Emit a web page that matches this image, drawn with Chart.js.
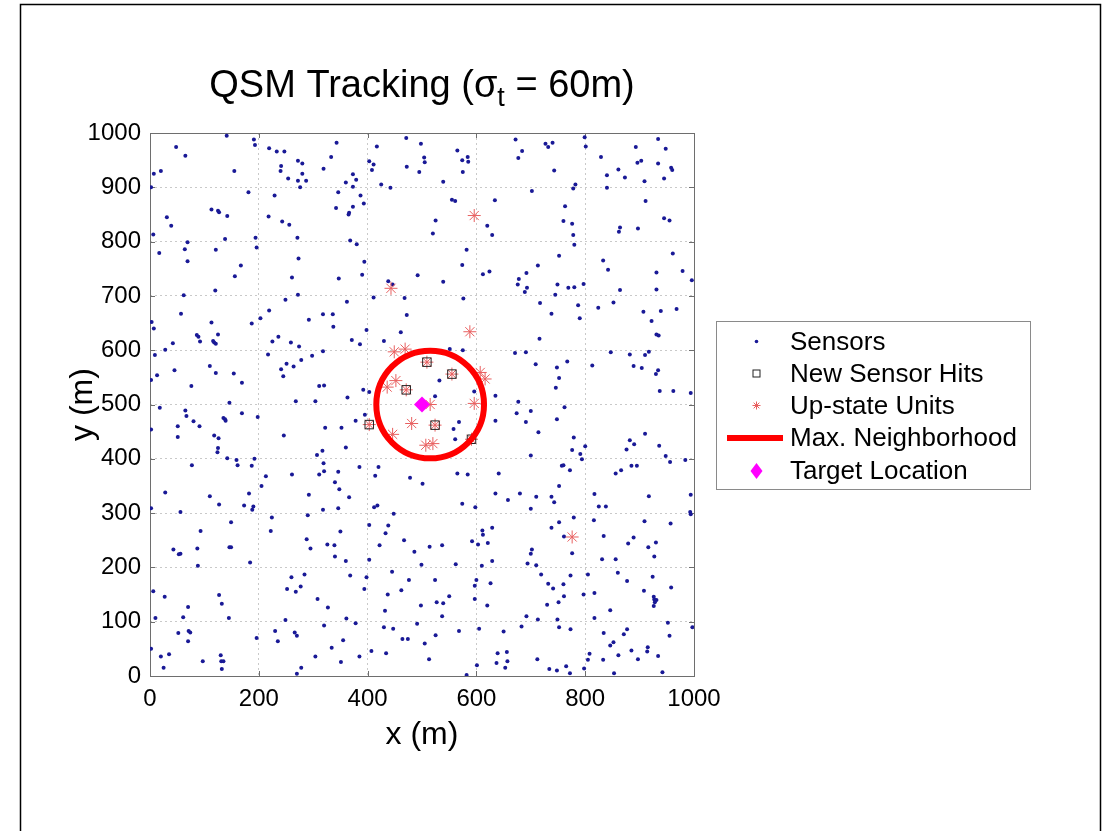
<!DOCTYPE html>
<html><head><meta charset="utf-8">
<script src="https://cdn.jsdelivr.net/npm/chart.js@4.4.1/dist/chart.umd.min.js"></script>
<style>html,body{margin:0;padding:0;background:#fff;}canvas{display:block;}</style>
</head><body>
<canvas id="c" width="1102" height="831"></canvas>
<script>
const FONT = "'Liberation Sans', Arial, Helvetica, sans-serif";

// ---- Data ----
const xTickValues = [0, 200, 400, 600, 800, 1000];
const xTickLabels = ['0', '200', '400', '600', '800', '1000'];
const yTickValues = [0, 100, 200, 300, 400, 500, 600, 700, 800, 900, 1000];
const yTickLabels = ['0', '100', '200', '300', '400', '500', '600', '700', '800', '900', '1000'];
const axisMin = 0, axisMax = 1000;
const titleMain = 'QSM Tracking (\u03C3';
const titleSub = 't';
const titleEnd = ' = 60m)';
const xLabel = 'x (m)';
const yLabel = 'y (m)';
const legendLabels = ['Sensors', 'New Sensor Hits', 'Up-state Units', 'Max. Neighborhood', 'Target Location'];

const sensors = [
[141,995],[191,988],[193,978],[48,974],[65,958],[219,972],[233,966],[247,966],[272,949],[280,944],[241,939],[240,930],[319,934],[333,956],[155,930],[7,925],[20,930],[254,916],[280,925],[272,912],[287,912],[276,900],[2,900],[181,891],[229,885],[113,859],[125,857],[127,854],[142,847],[31,845],[39,829],[218,846],[243,837],[256,831],[6,813],[138,805],[194,807],[271,807],[69,799],[64,786],[121,785],[196,789],[17,779],[69,764],[273,769],[167,756],[156,736],[261,734],[62,701],[120,710],[272,702],[249,693],
[343,982],[471,991],[498,980],[417,975],[403,948],[411,942],[408,932],[472,938],[504,955],[505,946],[495,928],[565,968],[574,950],[584,956],[585,947],[575,928],[373,924],[379,914],[360,909],[373,901],[425,905],[442,899],[539,910],[346,891],[387,885],[393,870],[373,864],[342,862],[366,853],[365,850],[555,877],[561,875],[634,876],[525,839],[520,815],[620,829],[629,812],[368,802],[380,795],[582,785],[394,763],[574,757],[612,740],[624,745],[390,739],[347,732],[492,738],[539,726],[438,727],[446,721],[411,697],[468,696],[576,695],[362,689],
[672,988],[677,954],[684,967],[727,980],[732,974],[740,982],[799,992],[801,975],[743,931],[829,956],[893,974],[934,989],[948,971],[896,945],[903,949],[934,944],[958,936],[960,932],[861,933],[840,922],[873,918],[909,911],[945,916],[782,905],[778,898],[840,899],[702,893],[911,875],[763,865],[760,838],[776,833],[945,843],[955,839],[864,826],[862,818],[897,824],[778,812],[780,794],[752,774],[713,756],[692,742],[678,731],[676,721],[693,715],[689,707],[749,721],[769,715],[780,716],[797,722],[745,702],[717,687],[787,683],[833,765],[842,748],[961,778],[931,743],[979,746],[996,729],[864,711],[931,712],[824,678],[852,688],[968,676],
[57,667],[3,652],[7,640],[113,651],[187,649],[203,659],[219,673],[292,656],[318,666],[336,666],[86,628],[89,625],[125,629],[92,616],[116,617],[118,614],[121,612],[42,613],[28,601],[9,591],[236,625],[225,616],[259,614],[274,607],[318,598],[298,590],[217,592],[278,582],[251,575],[264,570],[241,565],[245,552],[110,571],[121,558],[154,557],[45,563],[13,554],[2,545],[169,540],[76,534],[311,534],[320,535],[146,503],[268,506],[304,506],[18,494],[65,489],[67,479],[169,484],[198,477],[135,475],[138,473],[139,470],[80,469],[51,460],[91,460],[2,454],[322,457],[51,440],[118,443],[126,438],[246,443],[125,420],[124,412],[142,401],[159,398],[161,388],[192,400],[187,387],[77,388],[307,407],[317,415],[319,392],[320,377],[311,371],[261,371],[213,368],[205,350],
[472,665],[337,643],[398,637],[461,633],[371,619],[386,611],[430,617],[575,600],[671,595],[551,602],[532,544],[392,527],[403,523],[363,513],[596,524],[635,516],[524,515],[674,484],[395,481],[378,470],[352,457],[568,468],[558,455],[635,470],[561,436],[360,421],[385,385],[420,385],[346,376],[414,369],[565,373],[584,371],[641,373],[478,365],[501,354],[340,357],[348,344],
[738,667],[790,659],[907,671],[939,672],[922,654],[931,629],[935,627],[716,621],[691,596],[847,596],[882,592],[910,591],[917,597],[709,574],[748,568],[767,579],[813,572],[889,571],[904,567],[934,563],[930,556],[752,549],[746,531],[937,525],[962,525],[994,521],[677,505],[762,495],[700,488],[691,468],[748,473],[714,449],[779,439],[776,416],[800,423],[791,409],[794,399],[700,406],[757,387],[760,388],[772,379],[752,350],[910,446],[882,434],[890,427],[876,417],[936,424],[948,405],[956,394],[984,398],[885,387],[895,387],[866,379],[856,373],
[28,338],[110,331],[182,336],[292,334],[2,309],[56,302],[127,316],[173,314],[190,312],[188,306],[224,292],[290,296],[318,306],[149,283],[93,267],[222,267],[288,252],[295,235],[326,242],[43,233],[53,224],[56,225],[87,235],[146,237],[149,237],[88,203],[184,209],[6,156],[27,146],[127,149],[132,133],[70,127],[10,107],[61,108],[145,107],[52,79],[71,83],[74,80],[70,64],[196,70],[2,50],[20,36],[35,40],[25,15],[97,27],[130,38],[131,27],[135,27],[132,13],[252,160],[260,182],[284,187],[268,155],[277,165],[308,142],[327,126],[249,103],[320,93],[230,83],[266,80],[270,74],[235,64],[304,36],[278,15],[270,4],
[366,329],[346,309],[412,311],[418,314],[448,299],[574,317],[598,311],[635,336],[658,324],[403,278],[438,277],[433,263],[350,266],[339,241],[340,220],[422,241],[467,250],[486,229],[514,238],[537,241],[611,268],[612,260],[629,273],[592,248],[603,242],[621,245],[360,212],[403,214],[499,205],[562,206],[610,203],[629,212],[368,185],[398,182],[445,192],[476,177],[524,177],[600,177],[597,166],[626,171],[394,160],[462,158],[437,150],[550,147],[527,136],[539,134],[498,130],[597,142],[620,130],[432,120],[537,110],[361,106],[378,97],[430,90],[447,87],[491,96],[568,83],[605,87],[650,82],[355,66],[334,52],[464,68],[474,68],[525,75],[505,60],[385,36],[407,46],[434,42],[351,26],[513,31],[601,20],[582,2],[639,42],[656,44],[637,24],[657,27],[653,15],
[680,336],[710,330],[738,330],[743,320],[700,308],[817,335],[917,331],[994,334],[825,312],[838,312],[993,302],[994,298],[779,292],[752,283],[738,273],[816,287],[909,285],[957,281],[761,257],[834,258],[889,255],[879,244],[930,246],[916,237],[702,233],[700,225],[776,226],[927,220],[694,207],[710,204],[831,215],[856,215],[719,187],[773,185],[805,187],[860,190],[924,183],[877,175],[732,170],[741,161],[760,169],[761,147],[797,150],[817,153],[908,157],[958,163],[926,146],[927,141],[931,140],[928,136],[926,129],[730,131],[751,136],[846,121],[692,110],[713,104],[749,104],[817,107],[683,91],[752,90],[773,86],[952,98],[997,90],[834,79],[877,86],[871,77],[955,74],[852,62],[846,56],[915,53],[914,45],[885,47],[808,41],[805,30],[833,30],[861,38],[897,31],[934,37],[712,31],[734,13],[748,10],[765,18],[772,5],[798,14],[853,5],[942,7]
];
const newHits = [[509,578],[555,556],[471,527],[403,463],[524,462],[591,436]];
const upStateUnits = [[596,848],[443,714],[588,634],[449,597],[469,602],[452,544],[436,532],[607,559],[616,547],[596,502],[515,500],[481,465],[446,445],[507,425],[520,428],[776,256],
  [509,578],[555,556],[471,527],[403,463],[524,462],[591,436]];
const neighborhoodCenter = [515, 500];
const neighborhoodRadius = 99;
const targetLocation = [500, 500];

const toPts = arr => arr.map(p => ({x: p[0], y: p[1]}));

const COL = {
  sensor: 'rgb(25,25,150)',
  hit: '#222',
  up: 'rgb(232,95,95)',
  hood: '#ff0000',
  target: '#ff00ff',
  axis: '#6e6e6e',
  grid: '#c9c9c9'
};

const decorPlugin = {
  id: 'decor',
  beforeDatasetsDraw(chart) {
    const {ctx, chartArea: a, scales: {x, y}} = chart;
    ctx.save();
    ctx.strokeStyle = COL.axis;
    ctx.lineWidth = 1;
    ctx.strokeRect(Math.round(a.left) + 0.5, Math.round(a.top) + 0.5, Math.round(a.right - a.left), Math.round(a.bottom - a.top));
    const tl = 5;
    ctx.beginPath();
    xTickValues.forEach(v => {
      const px = Math.round(x.getPixelForValue(v)) + 0.5;
      ctx.moveTo(px, a.bottom); ctx.lineTo(px, a.bottom - tl);
      ctx.moveTo(px, a.top); ctx.lineTo(px, a.top + tl);
    });
    yTickValues.forEach(v => {
      const py = Math.round(y.getPixelForValue(v)) + 0.5;
      ctx.moveTo(a.left, py); ctx.lineTo(a.left + tl, py);
      ctx.moveTo(a.right, py); ctx.lineTo(a.right - tl, py);
    });
    ctx.stroke();
    ctx.restore();
  },
  afterDraw(chart) {
    const {ctx, chartArea: a} = chart;
    ctx.save();
    // Title with subscript
    const fMain = '38px ' + FONT, fSub = '27px ' + FONT;
    ctx.fillStyle = '#000';
    ctx.textBaseline = 'alphabetic';
    ctx.font = fMain; const w1 = ctx.measureText(titleMain).width; const w3 = ctx.measureText(titleEnd).width;
    ctx.font = fSub; const w2 = ctx.measureText(titleSub).width;
    const cx = (a.left + a.right) / 2;
    let tx = cx - (w1 + w2 + w3) / 2;
    const base = 97;
    ctx.font = fMain; ctx.textAlign = 'left';
    ctx.fillText(titleMain, tx, base); tx += w1;
    ctx.font = fSub; ctx.fillText(titleSub, tx, base + 9); tx += w2;
    ctx.font = fMain; ctx.fillText(titleEnd, tx, base);

    // Legend
    const L = {x: 716.5, y: 321.5, w: 314, h: 168};
    ctx.fillStyle = '#fff';
    ctx.fillRect(L.x, L.y, L.w, L.h);
    ctx.strokeStyle = '#8a8a8a'; ctx.lineWidth = 1;
    ctx.strokeRect(L.x, L.y, L.w, L.h);
    const rows = [341.5, 373.5, 405.5, 438, 471];
    const mx = 756.5;
    ctx.font = '26px ' + FONT; ctx.textBaseline = 'middle'; ctx.fillStyle = '#000';
    legendLabels.forEach((t, i) => ctx.fillText(t, 790, rows[i] + 1));
    ctx.fillStyle = COL.sensor; ctx.beginPath(); ctx.arc(mx, rows[0], 1.8, 0, Math.PI * 2); ctx.fill();
    ctx.strokeStyle = COL.hit; ctx.lineWidth = 1; ctx.strokeRect(mx - 3.5, rows[1] - 3.5, 7, 7);
    ctx.strokeStyle = COL.up; ctx.beginPath();
    for (let k = 0; k < 4; k++) {
      const ang = k * Math.PI / 4, r = 4;
      ctx.moveTo(mx - r * Math.cos(ang), rows[2] - r * Math.sin(ang));
      ctx.lineTo(mx + r * Math.cos(ang), rows[2] + r * Math.sin(ang));
    }
    ctx.stroke();
    ctx.strokeStyle = COL.hood; ctx.lineWidth = 6; ctx.beginPath(); ctx.moveTo(727, rows[3]); ctx.lineTo(783, rows[3]); ctx.stroke();
    ctx.fillStyle = COL.target; ctx.beginPath();
    ctx.moveTo(mx, rows[4] - 8); ctx.lineTo(mx + 6, rows[4]); ctx.lineTo(mx, rows[4] + 8); ctx.lineTo(mx - 6, rows[4]); ctx.closePath(); ctx.fill();

    // figure frame
    ctx.strokeStyle = '#000'; ctx.lineWidth = 1.5;
    ctx.beginPath();
    ctx.moveTo(20.5, 831); ctx.lineTo(20.5, 4.5); ctx.lineTo(1100.5, 4.5); ctx.lineTo(1100.5, 831);
    ctx.stroke();
    ctx.restore();
  }
};

const tickFont = {family: FONT, size: 24};
const labelFont = {family: FONT, size: 32};

new Chart(document.getElementById('c'), {
  type: 'scatter',
  data: {
    datasets: [
      {label: legendLabels[0], data: toPts(sensors), pointRadius: 2, pointBackgroundColor: COL.sensor, pointBorderWidth: 0, order: 5},
      {label: legendLabels[1], data: toPts(newHits), pointStyle: 'rect', pointRadius: 6, pointBackgroundColor: 'rgba(0,0,0,0)', pointBorderColor: COL.hit, pointBorderWidth: 1, order: 3},
      {label: legendLabels[2], data: toPts(upStateUnits), pointStyle: 'star', pointRadius: 6.5, pointBorderColor: COL.up, pointBorderWidth: 1, order: 4},
      {label: legendLabels[3], data: toPts([neighborhoodCenter]), pointStyle: 'circle',
        pointRadius: c => { const s = c.chart.scales.x; return Math.abs(s.getPixelForValue(neighborhoodRadius) - s.getPixelForValue(0)); },
        pointBackgroundColor: 'rgba(0,0,0,0)', pointBorderColor: COL.hood, pointBorderWidth: 6, order: 2, clip: false},
      {label: legendLabels[4], data: toPts([targetLocation]), pointStyle: 'rectRot', pointRadius: 8, pointBackgroundColor: COL.target, pointBorderWidth: 0, order: 1}
    ]
  },
  options: {
    responsive: false, animation: false, events: [],
    layout: {padding: {left: 0, right: 408, top: 133, bottom: 0}},
    plugins: {legend: {display: false}, tooltip: {enabled: false}, title: {display: false}},
    scales: {
      x: {
        type: 'linear', min: axisMin, max: axisMax,
        afterBuildTicks: s => { s.ticks = xTickValues.map(v => ({value: v})); },
        ticks: {font: tickFont, color: '#000', maxRotation: 0, padding: 9, autoSkip: false,
          callback: (v, i) => xTickLabels[i]},
        grid: {color: COL.grid, drawTicks: false, lineWidth: 1},
        border: {display: false, dash: [2, 3]},
        title: {display: true, text: xLabel, font: labelFont, color: '#000', padding: {top: 0, bottom: 77}},
        afterFit: s => { s.height = 155; }
      },
      y: {
        type: 'linear', min: axisMin, max: axisMax,
        afterBuildTicks: s => { s.ticks = yTickValues.map(v => ({value: v})); },
        ticks: {font: tickFont, color: '#000', padding: 9, autoSkip: false,
          callback: (v, i) => yTickLabels[i]},
        grid: {color: COL.grid, drawTicks: false, lineWidth: 1},
        border: {display: false, dash: [2, 3]},
        title: {display: true, text: yLabel, font: labelFont, color: '#000', padding: {top: 64, bottom: 0}},
        afterFit: s => { s.width = 150; }
      }
    }
  },
  plugins: [decorPlugin]
});
</script>
</body></html>
